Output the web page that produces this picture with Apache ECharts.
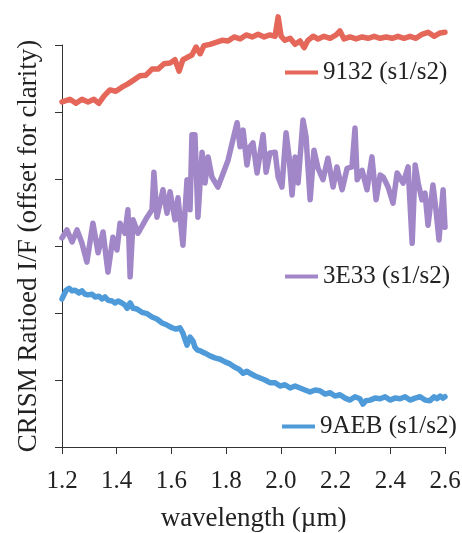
<!DOCTYPE html>
<html>
<head>
<meta charset="utf-8">
<script src="https://cdn.jsdelivr.net/npm/echarts@6/dist/echarts.min.js"></script>
<style>
html,body{margin:0;padding:0;background:#fff;}
#chart{width:462px;height:533px;}
</style>
</head>
<body>
<div id="chart"></div>
<script>
var seriesNames = ['9132 (s1/s2)', '3E33 (s1/s2)', '9AEB (s1/s2)'];
var xTitle = 'wavelength (µm)';
var yTitle = 'CRISM Ratioed I/F (offset for clarity)';

var redWl = [1.200,1.229,1.251,1.273,1.295,1.317,1.335,1.354,1.375,1.397,1.419,1.441,1.463,1.485,1.507,1.529,1.551,1.573,1.595,1.613,1.628,1.642,1.661,1.675,1.690,1.705,1.719,1.741,1.763,1.785,1.807,1.829,1.851,1.873,1.895,1.917,1.939,1.960,1.979,1.990,2.001,2.015,2.034,2.052,2.070,2.085,2.099,2.118,2.136,2.158,2.180,2.202,2.216,2.231,2.253,2.275,2.297,2.319,2.341,2.363,2.385,2.407,2.428,2.450,2.472,2.494,2.516,2.538,2.560,2.582,2.600];
var redVal = [5.15,5.19,5.13,5.19,5.15,5.19,5.13,5.24,5.33,5.31,5.37,5.42,5.48,5.54,5.55,5.64,5.64,5.72,5.73,5.78,5.61,5.78,5.82,5.85,5.97,5.87,5.99,6.01,6.04,6.07,6.06,6.12,6.09,6.15,6.12,6.16,6.12,6.15,6.13,6.42,6.13,6.07,6.10,6.01,6.06,5.96,6.07,6.13,6.09,6.13,6.10,6.15,6.21,6.09,6.12,6.09,6.12,6.10,6.13,6.10,6.12,6.10,6.13,6.10,6.13,6.10,6.16,6.19,6.13,6.18,6.19];

var purpleWl = [1.200,1.218,1.237,1.255,1.273,1.291,1.313,1.332,1.350,1.368,1.386,1.401,1.412,1.430,1.441,1.449,1.460,1.478,1.511,1.529,1.536,1.547,1.569,1.584,1.595,1.613,1.624,1.642,1.657,1.668,1.675,1.686,1.697,1.712,1.723,1.734,1.748,1.770,1.807,1.822,1.840,1.851,1.862,1.876,1.887,1.898,1.913,1.935,1.946,1.960,1.979,1.990,2.004,2.019,2.030,2.041,2.052,2.063,2.081,2.092,2.107,2.121,2.136,2.154,2.172,2.191,2.205,2.224,2.242,2.260,2.271,2.279,2.297,2.315,2.333,2.348,2.363,2.374,2.392,2.410,2.425,2.447,2.465,2.480,2.491,2.502,2.516,2.527,2.538,2.556,2.567,2.578,2.593,2.600];
var purpleVal = [3.12,3.24,3.06,3.24,3.04,2.76,3.34,2.90,3.21,2.61,3.13,2.94,3.34,3.19,3.54,2.54,3.39,3.19,3.43,3.54,4.10,3.43,3.84,3.49,3.81,3.39,3.72,3.01,3.99,3.54,4.66,4.66,3.43,4.40,3.94,4.33,4.03,3.88,4.28,4.54,4.84,4.48,4.73,4.21,4.48,4.54,4.09,4.66,4.10,4.39,4.40,4.03,3.88,4.69,4.33,3.76,4.33,3.94,4.88,4.63,3.69,4.43,4.16,3.99,4.31,3.88,4.18,3.84,4.16,4.18,4.76,3.99,4.13,3.84,4.33,3.69,4.06,4.03,3.88,3.64,4.09,3.94,4.18,3.04,4.21,3.94,3.69,3.79,3.31,3.91,3.54,3.09,3.84,3.28];

var blueWl = [1.200,1.215,1.226,1.237,1.248,1.262,1.273,1.284,1.295,1.310,1.321,1.335,1.346,1.357,1.368,1.383,1.394,1.405,1.419,1.430,1.438,1.449,1.460,1.474,1.492,1.511,1.529,1.547,1.566,1.584,1.602,1.617,1.631,1.642,1.650,1.657,1.668,1.679,1.686,1.694,1.708,1.723,1.741,1.759,1.778,1.796,1.814,1.832,1.847,1.862,1.876,1.887,1.906,1.924,1.942,1.960,1.979,1.997,2.015,2.034,2.052,2.070,2.088,2.107,2.125,2.143,2.162,2.180,2.198,2.216,2.235,2.253,2.271,2.289,2.300,2.311,2.326,2.344,2.363,2.381,2.399,2.417,2.436,2.454,2.472,2.491,2.509,2.527,2.545,2.560,2.571,2.582,2.593,2.600];
var blueVal = [2.21,2.34,2.37,2.33,2.34,2.30,2.33,2.28,2.27,2.28,2.24,2.25,2.21,2.24,2.19,2.18,2.15,2.18,2.15,2.12,2.07,2.15,2.07,2.06,2.01,1.99,1.94,1.91,1.85,1.82,1.78,1.76,1.78,1.70,1.60,1.52,1.64,1.58,1.49,1.45,1.43,1.40,1.36,1.33,1.31,1.27,1.24,1.19,1.16,1.10,1.13,1.10,1.06,1.03,1.00,0.96,0.96,0.91,0.93,0.88,0.91,0.88,0.85,0.82,0.85,0.84,0.79,0.81,0.76,0.78,0.73,0.70,0.75,0.72,0.64,0.69,0.70,0.73,0.72,0.75,0.70,0.73,0.72,0.75,0.70,0.73,0.75,0.70,0.69,0.75,0.72,0.76,0.73,0.75];

var xTicks = {min: 1.2, max: 2.6, step: 0.2};
var yTicks = {min: 0, max: 6, step: 1};

function zip(a, b) {
  var out = [];
  var n = Math.min(a.length, b.length);
  for (var i = 0; i < n; i++) out.push([a[i], b[i]]);
  return out;
}

var FONT = '"Liberation Serif", "DejaVu Serif", serif';
var colors = ['#E4675A', '#A287C8', '#4F9BDA'];
var dataSets = [zip(redWl, redVal), zip(purpleWl, purpleVal), zip(blueWl, blueVal)];
var legendPos = [[285, 60], [285, 264], [282, 414]];

var chart = echarts.init(document.getElementById('chart'), null, {renderer: 'canvas'});
var option = {
  animation: false,
  backgroundColor: '#ffffff',
  textStyle: {fontFamily: FONT, color: '#222'},
  grid: {left: 62, right: 17, top: 45, bottom: 86, containLabel: false, outerBoundsMode: 'none'},
  legend: seriesNames.map(function (n, i) {
    return {
      data: [n], left: legendPos[i][0], top: legendPos[i][1], padding: 0,
      icon: 'rect', itemWidth: 33, itemHeight: 4, selectedMode: false,
      textStyle: {fontFamily: FONT, fontSize: 25, color: '#222'}
    };
  }),
  xAxis: {
    type: 'value', min: xTicks.min, max: xTicks.max, interval: xTicks.step,
    axisLine: {show: true, lineStyle: {color: '#333', width: 1}},
    axisTick: {show: true, inside: false, length: 7, lineStyle: {color: '#333'}},
    axisLabel: {fontFamily: FONT, fontSize: 25, color: '#222', margin: 22,
      formatter: function (v) { return v.toFixed(1); }},
    splitLine: {show: false},
    name: xTitle, nameLocation: 'middle', nameGap: 58,
    nameTextStyle: {fontFamily: FONT, fontSize: 27, color: '#222'}
  },
  yAxis: {
    type: 'value', min: yTicks.min, max: yTicks.max, interval: yTicks.step,
    axisLine: {show: true, lineStyle: {color: '#333', width: 1}},
    axisTick: {show: true, inside: false, length: 7, lineStyle: {color: '#333'}},
    axisLabel: {show: false},
    splitLine: {show: false},
    name: yTitle, nameLocation: 'middle', nameGap: 20,
    nameTextStyle: {fontFamily: FONT, fontSize: 27, color: '#222'}
  },
  series: seriesNames.map(function (n, i) {
    return {
      name: n, type: 'line', data: dataSets[i], showSymbol: false, symbol: 'none',
      clip: false, color: colors[i],
      lineStyle: {width: 5.5, color: colors[i], join: 'round', cap: 'round'}
    };
  })
};
chart.setOption(option);
</script>
</body>
</html>
